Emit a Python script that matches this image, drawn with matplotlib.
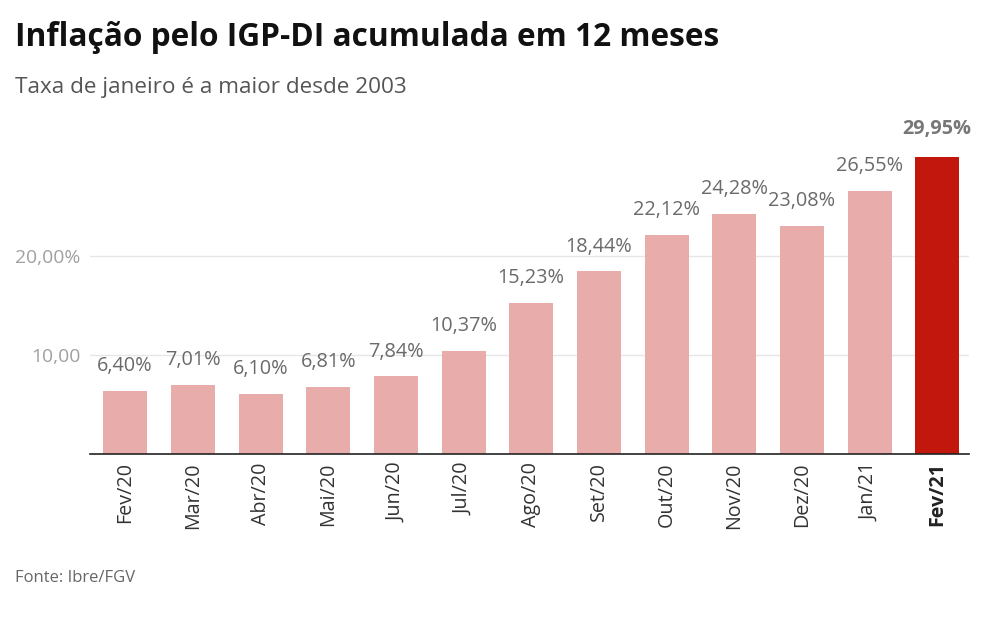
import matplotlib
matplotlib.use("Agg")
import matplotlib.pyplot as plt

categories = ["Fev/20", "Mar/20", "Abr/20", "Mai/20", "Jun/20", "Jul/20", "Ago/20",
              "Set/20", "Out/20", "Nov/20", "Dez/20", "Jan/21", "Fev/21"]
values = [6.40, 7.01, 6.10, 6.81, 7.84, 10.37, 15.23, 18.44, 22.12, 24.28, 23.08, 26.55, 29.95]
ytick_values = [10, 20]
ytick_labels = ["10,00", "20,00%"]

plt.rcParams['font.family'] = ['Open Sans', 'DejaVu Sans']

fig = plt.figure(figsize=(9.84, 6.17), dpi=100)
ax = fig.add_axes([90/984, (617-454)/617, (969-90)/984, (31*9.9)/617])

light = "#E8ADAA"
dark = "#C1170D"
n = len(values)
colors = [light]*(n-1) + [dark]
x = list(range(n))
ax.bar(x, values, width=0.65, color=colors, zorder=2)

for i, v in enumerate(values):
    lab = f"{v:.2f}".replace(".", ",") + "%"
    last = i == n-1
    ax.text(i, v + (1.9 if last else 1.5), lab, ha="center", va="bottom",
            fontsize=14.3, color="#777777" if last else "#6a6a6a",
            fontweight="bold" if last else "normal")

ax.set_xlim(-0.52, n - 1 + 0.47)
ax.set_ylim(0, 31)
ax.set_yticks(ytick_values)
ax.set_yticklabels(ytick_labels, fontsize=13.9, color="#a0a0a0")
ax.tick_params(axis="y", length=0, pad=7)
ax.yaxis.grid(True, color="#e6e6e6", linewidth=1, zorder=0)
ax.set_xticks(x)
ax.set_xticklabels(categories, rotation=90, fontsize=14.2, color="#333333")
ax.get_xticklabels()[-1].set_fontweight("bold")
ax.get_xticklabels()[-1].set_color("#222222")
ax.tick_params(axis="x", length=0, pad=6)
for s in ["top", "right", "left"]:
    ax.spines[s].set_visible(False)
ax.spines["bottom"].set_color("#222222")
ax.spines["bottom"].set_linewidth(1.2)

fig.text(15/984, 1 - 38/617, "Inflação pelo IGP-DI acumulada em 12 meses",
         fontsize=22.8, fontweight="bold", color="#111111", va="center", ha="left")
fig.text(15/984, 1 - 87/617, "Taxa de janeiro é a maior desde 2003",
         fontsize=16.2, color="#555555", va="center", ha="left")
fig.text(15/984, 1 - 578/617, "Fonte: Ibre/FGV",
         fontsize=12, color="#666666", va="center", ha="left")

fig.savefig("out.png", dpi=100)
